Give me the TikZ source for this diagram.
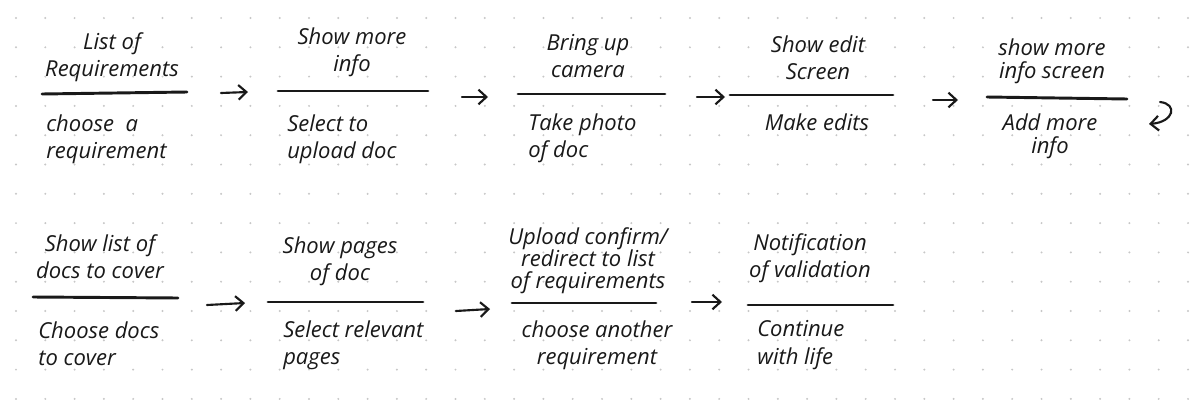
\documentclass[tikz,border=0pt]{standalone}
\usepackage{fontspec}
\setmainfont{Open Sans}
\usetikzlibrary{arrows.meta}
\tikzset{
  lbl/.style={inner sep=0pt, font=\fontsize{16.5}{20.5}\selectfont\itshape, align=center, text=black!90},
  lblL/.style={lbl, anchor=west, align=left},
  bar/.style={line width=2.2pt, line cap=round, black!90},
  flow/.style={line width=1.6pt, line cap=round, -{Straight Barb[length=6pt,width=11pt,line width=1.6pt]}, black!90},
  griddot/.style={fill=black!22, draw=none}
}
\begin{document}
\begin{tikzpicture}[x=0.75pt,y=-0.75pt]
\useasboundingbox (0,0) rectangle (1200,400);
\fill[white] (0,0) rectangle (1200,400);
% dot grid
\foreach \i in {0,...,40} {
  \foreach \j in {0,...,13} {
    \fill[griddot] ({16+29.3*\i},{18+29.3*\j}) circle (1.1);
  }
}
% ---------- row 1 ----------
\node[lbl] (t1) at (112,57) {List of\\Requirements};
\coordinate (b1l) at (42,94); \coordinate (b1r) at (187,92);
\draw[bar] (b1l) -- (b1r);
\node[lblL] (d1) at (46,139) {choose\ \ a\\requirement};

\coordinate (a1s) at (221,93); \coordinate (a1e) at (248,92);
\draw[flow] (a1s) -- (a1e);

\node[lbl] (t2) at (352,52) {Show more\\info};
\coordinate (b2l) at (278,91); \coordinate (b2r) at (428,91);
\draw[bar] (b2l) -- (b2r);
\node[lblL] (d2) at (287,139) {Select to\\upload doc};

\coordinate (a2s) at (462,97); \coordinate (a2e) at (488,97);
\draw[flow] (a2s) -- (a2e);

\node[lbl] (t3) at (588,56) {Bring up\\camera};
\coordinate (b3l) at (518,94); \coordinate (b3r) at (665,94);
\draw[bar] (b3l) -- (b3r);
\node[lblL] (d3) at (528,138) {Take photo\\of doc};

\coordinate (a3s) at (697,97); \coordinate (a3e) at (725,97);
\draw[flow] (a3s) -- (a3e);

\node[lbl] (t4) at (818,58) {Show edit\\Screen};
\coordinate (b4l) at (730,95); \coordinate (b4r) at (893,95);
\draw[bar] (b4l) -- (b4r);
\node[lbl] (d4) at (817,122) {Make edits};

\coordinate (a4s) at (933,100); \coordinate (a4e) at (958,100);
\draw[flow] (a4s) -- (a4e);

\node[lbl] (t5) at (1052,61) {show more\\[-3pt]info screen};
\coordinate (b5l) at (987,97); \coordinate (b5r) at (1127,99);
\draw[bar] (b5l) -- (b5r);
\node[lbl] (d5) at (1050,136) {Add more\\[-3pt]info};

\coordinate (cs) at (1160,102); \coordinate (ce) at (1149,124);
\draw[flow] (cs) .. controls (1178,104) and (1174,122) .. (ce);

% ---------- row 2 ----------
\node[lbl] (t6) at (100,257) {Show list of\\docs to cover};
\coordinate (b6l) at (33,297); \coordinate (b6r) at (178,298);
\draw[bar] (b6l) -- (b6r);
\node[lblL] (d6) at (38,344) {Choose docs\\to cover};

\coordinate (a6s) at (207,305); \coordinate (a6e) at (245,303);
\draw[flow] (a6s) -- (a6e);

\node[lbl] (t7) at (340,261) {Show pages\\of doc};
\coordinate (b7l) at (268,302); \coordinate (b7r) at (423,302);
\draw[bar] (b7l) -- (b7r);
\node[lblL] (d7) at (283,345) {Select relevant\\pages};

\coordinate (a7s) at (456,311); \coordinate (a7e) at (490,309);
\draw[flow] (a7s) -- (a7e);

\node[lbl] (t8) at (588,261) {Upload confirm/\\[-4pt]redirect to list\\[-4pt]of requirements};
\coordinate (b8l) at (512,303); \coordinate (b8r) at (656,303);
\draw[bar] (b8l) -- (b8r);
\node[lbl] (d8) at (597,345) {choose another\\requirement};

\coordinate (a8s) at (692,302); \coordinate (a8e) at (722,302);
\draw[flow] (a8s) -- (a8e);

\node[lbl] (t9) at (810,258) {Notification\\of validation};
\coordinate (b9l) at (748,305); \coordinate (b9r) at (893,305);
\draw[bar] (b9l) -- (b9r);
\node[lblL] (d9) at (757,345) {Continue\\with life};
\end{tikzpicture}
\end{document}
